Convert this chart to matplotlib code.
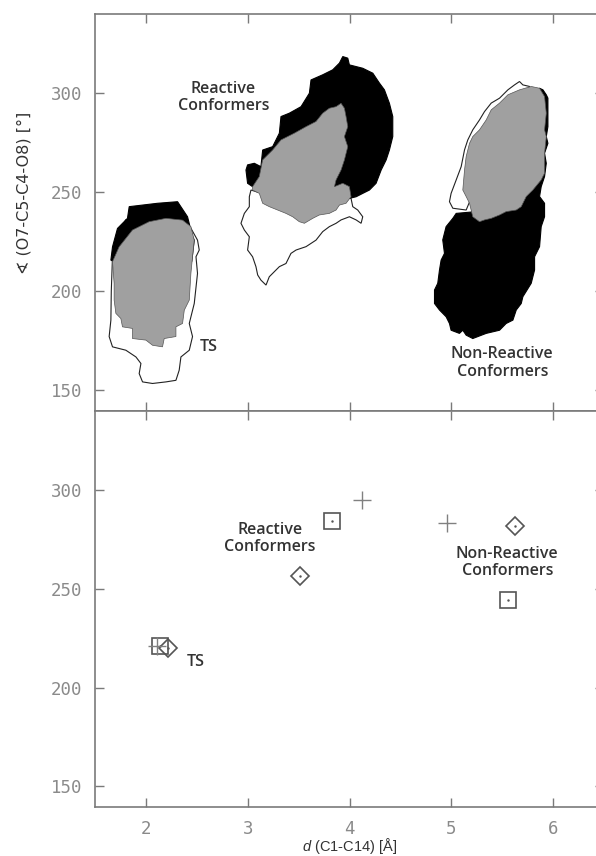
import numpy as np
import matplotlib
matplotlib.use("Agg")
import matplotlib.pyplot as plt

plt.rcParams['mathtext.fontset'] = 'custom'
plt.rcParams['mathtext.it'] = 'Liberation Sans:italic'
plt.rcParams['mathtext.rm'] = 'Liberation Sans'

# ---- top panel: outlines of the conformer populations ----
# each region is a list of (d [A], angle [deg]) vertices
ts_white = [(1.656, 185.4), (1.639, 177.1), (1.672, 171.9), (1.803, 170.2), (1.902, 166.8),
            (1.951, 163.5), (1.934, 158.4), (1.967, 154.2), (2.065, 153.4), (2.197, 154.2),
            (2.295, 155.0), (2.327, 160.1), (2.344, 166.8), (2.426, 170.2), (2.458, 177.1),
            (2.426, 183.7), (2.475, 193.8), (2.507, 209.0), (2.492, 217.4), (2.524, 220.8),
            (2.507, 225.8), (2.44, 232.0), (2.30, 240.0), (1.80, 236.0), (1.67, 215.0),
            (1.66, 200.0)]
ts_black = [(1.656, 215.7), (1.672, 222.4), (1.721, 231.7), (1.819, 236.8), (1.836, 242.7),
            (2.114, 244.4), (2.311, 245.2), (2.409, 237.6), (2.458, 227.5), (2.475, 225.8),
            (2.45, 215.0), (1.80, 212.0)]
ts_grey = [(1.672, 214.9), (1.737, 222.4), (1.868, 230.9), (2.032, 235.1), (2.197, 236.8),
           (2.360, 235.9), (2.442, 232.6), (2.475, 225.8), (2.458, 217.4), (2.442, 209.0),
           (2.426, 195.5), (2.377, 190.4), (2.360, 183.7), (2.295, 182.0), (2.295, 177.1),
           (2.180, 176.1), (2.163, 171.9), (2.065, 172.7), (2.000, 175.3), (1.868, 176.1),
           (1.868, 181.2), (1.770, 182.0), (1.754, 186.2), (1.705, 188.8), (1.688, 195.5),
           (1.688, 203.9)]

r_white = [(3.032, 251.1), (3.016, 247.7), (3.016, 242.7), (2.967, 239.3), (2.934, 234.3),
           (2.967, 230.9), (3.016, 227.5), (2.999, 220.8), (3.048, 217.4), (3.081, 212.4),
           (3.098, 208.2), (3.130, 205.6), (3.180, 203.1), (3.212, 207.3), (3.245, 209.0),
           (3.311, 212.4), (3.376, 214.0), (3.425, 219.1), (3.475, 220.8), (3.573, 222.5),
           (3.671, 225.8), (3.737, 230.1), (3.802, 232.6), (3.868, 234.3), (3.917, 236.0),
           (3.999, 237.6), (4.065, 236.0), (4.114, 234.3), (4.130, 237.6), (4.081, 241.0),
           (4.032, 242.7), (4.015, 246.9), (3.90, 250.0), (3.10, 250.0)]
r_black = [(2.983, 261.2), (2.999, 263.8), (3.065, 264.6), (3.130, 262.9), (3.147, 271.3),
           (3.245, 273.0), (3.311, 279.8), (3.327, 288.2), (3.409, 289.9), (3.524, 293.2),
           (3.606, 300.0), (3.622, 306.7), (3.737, 309.3), (3.835, 311.8), (3.901, 315.2),
           (3.934, 318.5), (3.983, 317.7), (3.999, 314.3), (4.130, 312.6), (4.229, 310.1),
           (4.294, 305.1), (4.343, 301.7), (4.392, 294.9), (4.425, 288.2), (4.425, 278.1),
           (4.392, 271.3), (4.360, 266.3), (4.311, 261.2), (4.261, 254.5), (4.196, 251.1),
           (4.130, 249.4), (4.065, 247.7), (3.999, 246.9), (3.90, 250.0), (3.20, 255.0),
           (3.098, 254.5), (3.048, 252.8), (2.999, 254.5)]
r_grey = [(3.048, 252.8), (3.114, 257.9), (3.147, 266.3), (3.245, 271.3), (3.327, 276.4),
          (3.458, 279.8), (3.573, 283.1), (3.671, 285.7), (3.737, 289.9), (3.802, 292.4),
          (3.868, 293.2), (3.917, 294.9), (3.950, 292.4), (3.966, 288.2), (3.983, 283.1),
          (3.950, 278.1), (3.983, 273.0), (3.950, 266.3), (3.917, 261.2), (3.868, 256.2),
          (3.852, 252.8), (3.934, 254.5), (3.999, 252.8), (4.015, 247.7), (3.966, 244.4),
          (3.901, 243.5), (3.868, 241.0), (3.802, 239.3), (3.704, 238.5), (3.639, 236.8),
          (3.557, 234.3), (3.507, 235.1), (3.442, 237.6), (3.376, 239.3), (3.294, 241.0),
          (3.212, 242.7), (3.147, 244.4), (3.114, 249.4), (3.048, 251.1)]

nr_white = [(5.015, 241.9), (4.982, 245.2), (4.998, 249.4), (5.048, 256.2), (5.097, 262.9),
            (5.130, 271.4), (5.162, 276.4), (5.211, 281.5), (5.277, 286.5), (5.326, 290.7),
            (5.392, 295.0), (5.474, 297.5), (5.556, 301.7), (5.621, 304.2), (5.670, 305.9),
            (5.703, 304.2), (5.769, 303.4), (5.70, 295.0), (5.30, 260.0), (5.146, 241.0)]
nr_black = [(5.048, 239.3), (5.015, 236.8), (4.949, 232.6), (4.916, 225.9), (4.933, 219.1),
            (4.900, 215.7), (4.884, 210.7), (4.867, 204.0), (4.835, 200.6), (4.835, 193.8),
            (4.884, 190.5), (4.949, 187.1), (4.982, 183.7), (4.998, 180.3), (5.080, 178.7),
            (5.113, 180.3), (5.146, 177.8), (5.211, 176.1), (5.343, 178.7), (5.474, 180.3),
            (5.539, 183.7), (5.605, 185.4), (5.638, 190.5), (5.687, 193.8), (5.703, 197.2),
            (5.785, 204.0), (5.818, 210.7), (5.818, 217.4), (5.867, 222.5), (5.883, 232.6),
            (5.916, 237.6), (5.916, 244.4), (5.867, 247.8), (5.883, 252.8), (5.916, 257.9),
            (5.933, 264.6), (5.916, 269.7), (5.949, 274.7), (5.933, 278.1), (5.949, 283.1),
            (5.949, 297.5), (5.933, 299.2), (5.900, 301.7), (5.867, 302.5), (5.60, 290.0),
            (5.20, 240.0)]
nr_grey = [(5.113, 251.1), (5.130, 261.2), (5.146, 268.0), (5.179, 274.7), (5.211, 278.1),
           (5.277, 281.5), (5.343, 286.5), (5.392, 291.6), (5.474, 295.0), (5.556, 299.2),
           (5.670, 301.7), (5.785, 303.4), (5.867, 302.5), (5.916, 298.3), (5.933, 289.9),
           (5.916, 281.5), (5.933, 278.1), (5.916, 269.7), (5.916, 259.6), (5.883, 256.2),
           (5.801, 251.1), (5.736, 247.8), (5.687, 242.7), (5.638, 241.0), (5.539, 240.2),
           (5.474, 238.5), (5.392, 236.8), (5.326, 236.0), (5.277, 235.1), (5.211, 237.6),
           (5.179, 244.4), (5.146, 247.8)]

# ---- bottom panel: representative structures ----
square_d = [2.14, 3.83, 5.56]
square_ang = [221.0, 284.3, 244.4]
diamond_d = [2.22, 3.51, 5.63]
diamond_ang = [219.8, 256.7, 281.8]
plus_d = [2.11, 4.12, 4.96]
plus_ang = [221.0, 295.0, 283.5]

xticks = [2, 3, 4, 5, 6]
yticks = [150, 200, 250, 300]

fig = plt.figure(figsize=(5.96, 8.56), dpi=100)
ax_top = fig.add_axes([95/596, 445/856, 509/596, 397/856])
ax_bot = fig.add_axes([95/596, 49/856, 509/596, 396/856])

spine_col = '#7a7a7a'
txt_col = '#333333'

for ax in (ax_top, ax_bot):
    ax.set_xlim(1.5, 6.5)
    ax.set_ylim(139.5, 340)
    ax.set_xticks(xticks)
    ax.set_yticks(yticks)
    ax.tick_params(direction='in', length=6.5, width=1.0, color=spine_col,
                   top=True, right=True, labelsize=12.5, labelcolor='#8a8a8a', pad=9)
    for lab in ax.get_xticklabels() + ax.get_yticklabels():
        lab.set_family('DejaVu Sans Mono')
    for s in ax.spines.values():
        s.set_color(spine_col)
        s.set_linewidth(1.2)

ax_top.tick_params(labelbottom=False)

# draw the populations: outlined white first, then black, grey on top
for white, black, grey in [(ts_white, ts_black, ts_grey),
                           (r_white, r_black, r_grey),
                           (nr_white, nr_black, nr_grey)]:
    w = np.array(white)
    b = np.array(black)
    g = np.array(grey)
    ax_top.fill(w[:, 0], w[:, 1], facecolor='white', edgecolor='#222222', lw=0.8, zorder=1)
    ax_top.fill(b[:, 0], b[:, 1], facecolor='black', edgecolor='black', lw=0.8, zorder=2)
    ax_top.fill(g[:, 0], g[:, 1], facecolor='#a0a0a0', edgecolor='#555555', lw=0.5, zorder=3)

lab_kw = dict(ha='center', va='center', fontsize=11.5, color=txt_col, linespacing=1.1,
              family=['Open Sans', 'DejaVu Sans'], fontweight='semibold')
ax_top.text(2.76, 298, 'Reactive\nConformers', **lab_kw)
ax_top.text(2.62, 171.8, 'TS', **lab_kw)
ax_top.text(5.50, 163.7, 'Non-Reactive\nConformers', **lab_kw)

ax_top.set_ylabel('∢ (O7-C5-C4-O8) [°]', fontsize=11.5, color=txt_col,
                  family=['DejaVu Sans'])
ax_top.yaxis.set_label_coords(-0.125, 0.55)

mk_col = '#555555'
ax_bot.plot(square_d, square_ang, 's', ms=12, mfc='none', mec=mk_col, mew=1.2)
ax_bot.plot(square_d, square_ang, '.', ms=1.5, color=mk_col)
ax_bot.plot(diamond_d, diamond_ang, 'D', ms=9, mfc='none', mec=mk_col, mew=1.2)
ax_bot.plot(diamond_d, diamond_ang, '.', ms=1.5, color=mk_col)
ax_bot.plot(plus_d, plus_ang, '+', ms=13, mec='#808080', mew=1.0)

ax_bot.text(3.22, 275.3, 'Reactive\nConformers', **lab_kw)
ax_bot.text(2.49, 213.0, 'TS', **lab_kw)
ax_bot.text(5.55, 263.4, 'Non-Reactive\nConformers', **lab_kw)

ax_bot.set_xlabel(r'$\it{d}$ (C1-C14) [Å]', fontsize=10.5, color=txt_col,
                  family='Liberation Sans', labelpad=-1)

fig.savefig('out.png', dpi=100)
